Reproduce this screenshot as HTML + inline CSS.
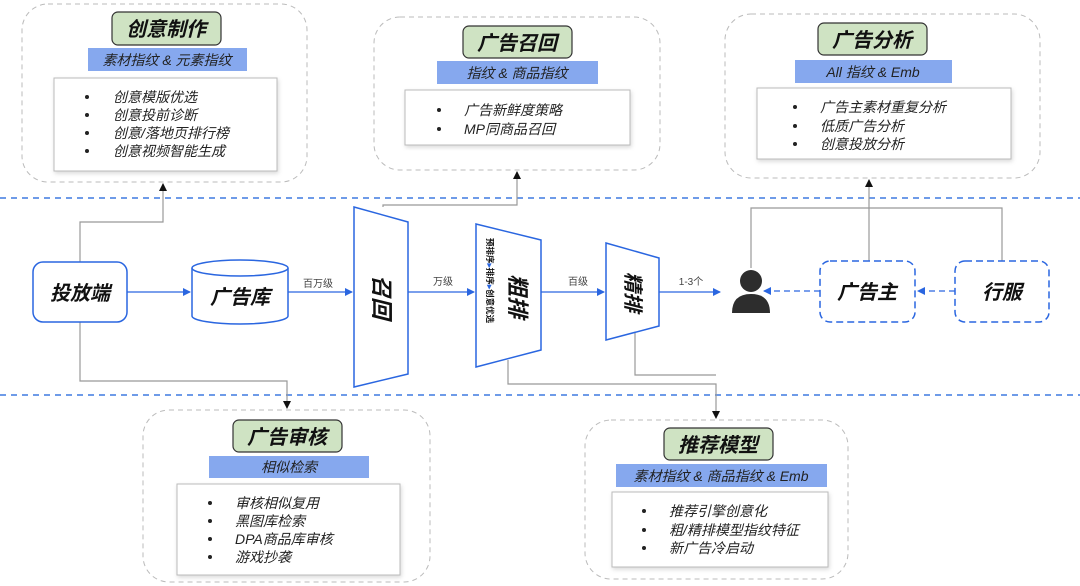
<!DOCTYPE html>
<html><head><meta charset="utf-8"><style>
html,body{margin:0;padding:0;background:#fff;}
svg{display:block;font-family:"Liberation Sans","Noto Sans CJK SC",sans-serif;}
.t{font-style:italic;font-weight:bold;fill:#111;}
.b{font-style:italic;font-size:14px;fill:#222;}
.li{font-style:italic;font-size:14px;fill:#222;}
</style></head><body>
<svg width="1080" height="586" viewBox="0 0 1080 586" xmlns="http://www.w3.org/2000/svg">
<defs>
<marker id="ab" markerWidth="8" markerHeight="8" refX="7" refY="4" orient="auto" markerUnits="userSpaceOnUse"><path d="M0,0 L8,4 L0,8z" fill="#2a66e0"/></marker>
<marker id="ak" markerWidth="8" markerHeight="8" refX="7" refY="4" orient="auto" markerUnits="userSpaceOnUse"><path d="M0,0 L8,4 L0,8z" fill="#111"/></marker>
<filter id="sh" x="-5%" y="-5%" width="110%" height="115%"><feDropShadow dx="1" dy="2" stdDeviation="2" flood-color="#000" flood-opacity="0.15"/></filter>
</defs>
<line x1="0" y1="198" x2="1080" y2="198" stroke="#3f7ae0" stroke-width="1.5" stroke-dasharray="6,5"/>
<line x1="0" y1="395" x2="1080" y2="395" stroke="#3f7ae0" stroke-width="1.5" stroke-dasharray="6,5"/>

<rect x="22" y="4" width="285" height="178" rx="26" fill="#fff" stroke="#bbb" stroke-dasharray="5,4"/>
<rect x="112" y="12" width="109" height="33" rx="6" fill="#cfe3c3" stroke="#333" stroke-width="1.2"/>
<text x="166" y="36" text-anchor="middle" class="t" font-size="20">创意制作</text>
<rect x="88" y="48" width="159" height="23" fill="#86a8ee"/>
<text x="167" y="65" text-anchor="middle" class="b">素材指纹 &amp; 元素指纹</text>
<rect x="54" y="78" width="223" height="93" fill="#fff" stroke="#bbb" filter="url(#sh)"/>
<g class="li"><circle cx="87" cy="97" r="2" fill="#222"/><text x="113" y="102">创意模版优选</text>
<circle cx="87" cy="115" r="2" fill="#222"/><text x="113" y="120">创意投前诊断</text>
<circle cx="87" cy="133" r="2" fill="#222"/><text x="113" y="138">创意/落地页排行榜</text>
<circle cx="87" cy="151" r="2" fill="#222"/><text x="113" y="156">创意视频智能生成</text></g>

<rect x="374" y="17" width="286" height="153" rx="26" fill="#fff" stroke="#bbb" stroke-dasharray="5,4"/>
<rect x="463" y="26" width="109" height="32" rx="6" fill="#cfe3c3" stroke="#333" stroke-width="1.2"/>
<text x="517" y="50" text-anchor="middle" class="t" font-size="20">广告召回</text>
<rect x="437" y="61" width="161" height="23" fill="#86a8ee"/>
<text x="517" y="78" text-anchor="middle" class="b">指纹 &amp; 商品指纹</text>
<rect x="405" y="90" width="225" height="55" fill="#fff" stroke="#bbb" filter="url(#sh)"/>
<g class="li"><circle cx="439" cy="110" r="2" fill="#222"/><text x="464" y="115">广告新鲜度策略</text>
<circle cx="439" cy="129" r="2" fill="#222"/><text x="464" y="134">MP同商品召回</text></g>

<rect x="725" y="14" width="315" height="164" rx="26" fill="#fff" stroke="#bbb" stroke-dasharray="5,4"/>
<rect x="818" y="23" width="109" height="32" rx="6" fill="#cfe3c3" stroke="#333" stroke-width="1.2"/>
<text x="872" y="47" text-anchor="middle" class="t" font-size="20">广告分析</text>
<rect x="795" y="60" width="157" height="23" fill="#86a8ee"/>
<text x="873" y="77" text-anchor="middle" class="b">All 指纹 &amp; Emb</text>
<rect x="757" y="88" width="254" height="71" fill="#fff" stroke="#bbb" filter="url(#sh)"/>
<g class="li"><circle cx="795" cy="107" r="2" fill="#222"/><text x="820" y="112">广告主素材重复分析</text>
<circle cx="795" cy="126" r="2" fill="#222"/><text x="820" y="131">低质广告分析</text>
<circle cx="795" cy="144" r="2" fill="#222"/><text x="820" y="149">创意投放分析</text></g>

<rect x="143" y="410" width="287" height="172" rx="26" fill="#fff" stroke="#bbb" stroke-dasharray="5,4"/>
<rect x="233" y="420" width="109" height="32" rx="6" fill="#cfe3c3" stroke="#333" stroke-width="1.2"/>
<text x="287" y="444" text-anchor="middle" class="t" font-size="20">广告审核</text>
<rect x="209" y="456" width="160" height="22" fill="#86a8ee"/>
<text x="289" y="472" text-anchor="middle" class="b">相似检索</text>
<rect x="177" y="484" width="223" height="91" fill="#fff" stroke="#bbb" filter="url(#sh)"/>
<g class="li"><circle cx="210" cy="503" r="2" fill="#222"/><text x="235" y="508">审核相似复用</text>
<circle cx="210" cy="521" r="2" fill="#222"/><text x="235" y="526">黑图库检索</text>
<circle cx="210" cy="539" r="2" fill="#222"/><text x="235" y="544">DPA商品库审核</text>
<circle cx="210" cy="557" r="2" fill="#222"/><text x="235" y="562">游戏抄袭</text></g>

<rect x="585" y="420" width="263" height="159" rx="26" fill="#fff" stroke="#bbb" stroke-dasharray="5,4"/>
<rect x="664" y="428" width="109" height="32" rx="6" fill="#cfe3c3" stroke="#333" stroke-width="1.2"/>
<text x="718" y="452" text-anchor="middle" class="t" font-size="20">推荐模型</text>
<rect x="616" y="464" width="211" height="23" fill="#86a8ee"/>
<text x="721" y="481" text-anchor="middle" class="b">素材指纹 &amp; 商品指纹 &amp; Emb</text>
<rect x="612" y="492" width="216" height="75" fill="#fff" stroke="#bbb" filter="url(#sh)"/>
<g class="li"><circle cx="644" cy="511" r="2" fill="#222"/><text x="669" y="516">推荐引擎创意化</text>
<circle cx="644" cy="530" r="2" fill="#222"/><text x="669" y="535">粗/精排模型指纹特征</text>
<circle cx="644" cy="548" r="2" fill="#222"/><text x="669" y="553">新广告冷启动</text></g>

<g fill="none" stroke="#999" stroke-width="1.2">
<polyline points="80,262 80,222 163,222 163,184" marker-end="url(#ak)"/>
<polyline points="80,322 80,381 287,381 287,408" marker-end="url(#ak)"/>
<polyline points="383,207 383,205 517,205 517,172" marker-end="url(#ak)"/>
<polyline points="751,268 751,208 1002,208 1002,261"/>
<polyline points="869,261 869,180" marker-end="url(#ak)"/>
<polyline points="508,360 508,384 716,384 716,418" marker-end="url(#ak)"/>
<polyline points="635,333 635,375 716,375"/>
</g>

<rect x="33" y="262" width="94" height="60" rx="10" fill="#fff" stroke="#2a66e0" stroke-width="1.5"/>
<text x="80" y="300" text-anchor="middle" class="t" font-size="20">投放端</text>
<path d="M192,268 L192,316 A48,8 0 0 0 288,316 L288,268" fill="#fff" stroke="#2a66e0" stroke-width="1.5"/>
<ellipse cx="240" cy="268" rx="48" ry="8" fill="#fff" stroke="#2a66e0" stroke-width="1.5"/>
<text x="240" y="304" text-anchor="middle" class="t" font-size="20">广告库</text>

<polygon points="354,207 408,222 408,374 354,387" fill="#fff" stroke="#2a66e0" stroke-width="1.5"/>
<text transform="translate(374,297) rotate(90)" text-anchor="middle" class="t" font-size="22">召回</text>
<polygon points="476,224 541,240 541,350 476,367" fill="#fff" stroke="#2a66e0" stroke-width="1.5"/>
<text transform="translate(510,296) rotate(90)" text-anchor="middle" class="t" font-size="22">粗排</text>
<text transform="translate(487,238) rotate(90)" font-size="8.5" font-weight="bold" fill="#111">预排序<tspan fill="#2a66e0">▸</tspan>排序<tspan fill="#2a66e0">▸</tspan>创意优选</text>
<polygon points="606,243 659,258 659,326 606,340" fill="#fff" stroke="#2a66e0" stroke-width="1.5"/>
<text transform="translate(626,292) rotate(90)" text-anchor="middle" class="t" font-size="20">精排</text>

<g stroke="#2a66e0" stroke-width="1.3" fill="none">
<line x1="127" y1="292" x2="190" y2="292" marker-end="url(#ab)"/>
<line x1="288" y1="292" x2="352" y2="292" marker-end="url(#ab)"/>
<line x1="408" y1="292" x2="474" y2="292" marker-end="url(#ab)"/>
<line x1="541" y1="292" x2="604" y2="292" marker-end="url(#ab)"/>
<line x1="659" y1="292" x2="720" y2="292" marker-end="url(#ab)"/>
<line x1="820" y1="291" x2="764" y2="291" stroke-dasharray="6,4" marker-end="url(#ab)"/>
<line x1="955" y1="291" x2="918" y2="291" stroke-dasharray="6,4" marker-end="url(#ab)"/>
</g>
<g font-size="10" fill="#444" text-anchor="middle">
<text x="318" y="287">百万级</text><text x="443" y="285">万级</text><text x="578" y="285">百级</text><text x="691" y="285">1-3个</text>
</g>

<circle cx="751" cy="281" r="11" fill="#2d2d2d"/>
<path d="M732,313 Q732,294 751,294 Q770,294 770,313 Z" fill="#2d2d2d"/>

<rect x="820" y="261" width="95" height="61" rx="10" fill="#fff" stroke="#2a66e0" stroke-width="1.5" stroke-dasharray="7,4"/>
<text x="867" y="299" text-anchor="middle" class="t" font-size="20">广告主</text>
<rect x="955" y="261" width="94" height="61" rx="10" fill="#fff" stroke="#2a66e0" stroke-width="1.5" stroke-dasharray="7,4"/>
<text x="1002" y="299" text-anchor="middle" class="t" font-size="20">行服</text>
</svg>
</body></html>
